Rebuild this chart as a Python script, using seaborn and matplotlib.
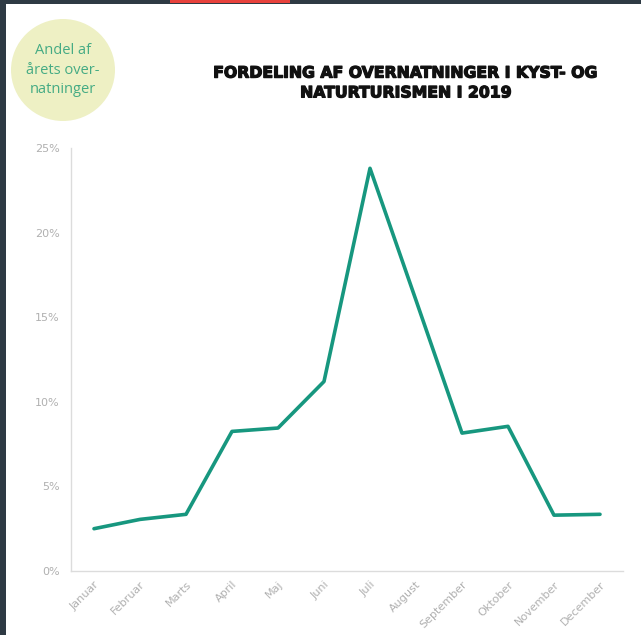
import matplotlib
matplotlib.use("Agg")
import matplotlib.pyplot as plt
import matplotlib.patheffects as pe
from matplotlib.patches import Ellipse, Rectangle
import seaborn as sns
import pandas as pd

months = ["Januar", "Februar", "Marts", "April", "Maj", "Juni", "Juli",
          "August", "September", "Oktober", "November", "December"]
share = [2.5, 3.05, 3.35, 8.25, 8.45, 11.2, 23.8, 16.0, 8.15, 8.55, 3.3, 3.35]
y_ticks = [0, 5, 10, 15, 20, 25]

df = pd.DataFrame({"maaned": months, "andel": share})

sns.set_style("white")
plt.rcParams["font.family"] = ["DejaVu Sans"]

W, H = 641, 635
fig = plt.figure(figsize=(W / 100, H / 100), dpi=100)
fig.patch.set_facecolor("white")

# dark frame bits from the screenshot
fig.add_artist(Rectangle((0, 0), 6 / W, 1, transform=fig.transFigure,
                         color="#2e3a44", lw=0))
fig.add_artist(Rectangle((0, 1 - 4 / H), 1, 4 / H, transform=fig.transFigure,
                         color="#2e3a44", lw=0))
fig.add_artist(Rectangle((170 / W, 1 - 3 / H), 120 / W, 3 / H,
                         transform=fig.transFigure, color="#e8423c", lw=0))

ax = fig.add_axes([71 / W, (H - 571) / H, 552 / W, 423 / H])
sns.lineplot(data=df, x="maaned", y="andel", sort=False, ax=ax,
             color="#17977f", linewidth=2.6)

ax.set_xlim(-0.5, 11.5)
ax.set_ylim(0, 25)
ax.set_yticks(y_ticks)
ax.set_yticklabels([f"{t}%" for t in y_ticks])
ax.set_xlabel("")
ax.set_ylabel("")
ax.tick_params(length=0, labelsize=8, colors="#b0b0b0", pad=8)
ax.tick_params(axis="x", pad=6)
plt.setp(ax.get_xticklabels(), rotation=45, ha="right", rotation_mode="anchor")
for side in ["top", "right"]:
    ax.spines[side].set_visible(False)
for side in ["left", "bottom"]:
    ax.spines[side].set_color("#dcdcdc")
    ax.spines[side].set_linewidth(1)

# bubble with the y-axis caption
fig.add_artist(Ellipse((63 / W, 1 - 70 / H), 104 / W, 102 / H,
                       transform=fig.transFigure, color="#eef0c4", lw=0))
fig.text(63 / W, 1 - 70 / H, "Andel af\nårets over-\nnatninger",
         ha="center", va="center", fontsize=10.5, color="#45ab84",
         linespacing=1.45, family=["Open Sans", "DejaVu Sans"])

fig.text(407 / W, 1 - 83 / H,
         "FORDELING AF OVERNATNINGER I KYST- OG\nNATURTURISMEN I 2019",
         ha="center", va="center", fontsize=11.3, fontweight="heavy",
         color="#111111", linespacing=1.4,
         path_effects=[pe.withStroke(linewidth=0.9, foreground="#111111")])

fig.savefig("out.png", dpi=100)
